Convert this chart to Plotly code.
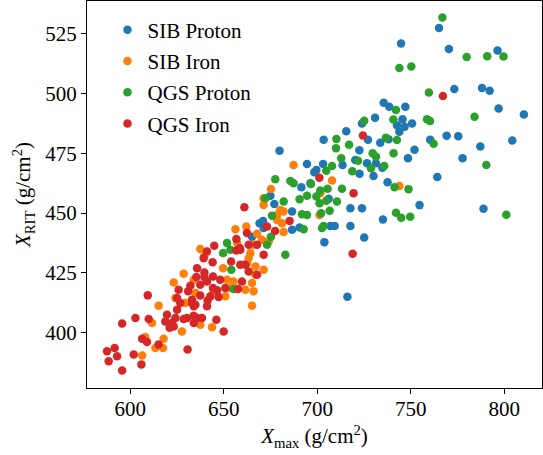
import plotly.graph_objects as go

sib_p_x = [765.1,744.8,770.4,796.4,773.3,788.1,792.2,735.5,738.5,747.1,797.0,810.5,745.6,742.6,743.9,746.7,750.7,769.2,775.4,760.4,804.3,787.2,752.0,733.7,738.1,748.5,777.7,734.8,764.2,737.6,754.7,788.9,735.1,730.9,723.9,715.5,727.1,722.5,720.3,726.6,731.4,713.5,722.6,730.1,703.4,679.8,694.5,703.1,699.5,698.4,691.5,696.3,706.1,717.7,723.9,686.5,677.0,671.0,690.5,707.0,709.3,717.7,686.5,725.1,703.8,674.9,669.1,671.3,665.1,716.1]
sib_p_y = [527.5,521.0,518.7,518.1,501.9,502.4,501.2,496.2,494.5,494.5,493.8,491.3,489.3,486.8,484.0,486.1,487.5,482.4,482.2,480.7,480.4,477.9,476.5,479.4,480.9,472.9,472.9,469.0,465.1,462.9,453.3,451.8,447.3,489.9,487.5,484.2,480.7,476.3,472.2,470.8,470.8,470.1,466.4,465.5,480.7,476.1,470.5,470.5,468.0,467.1,460.8,462.5,456.0,452.0,452.0,450.6,453.8,446.7,443.9,444.6,444.6,444.6,443.0,439.7,437.8,457.2,445.7,443.7,440.1,414.9]

sib_fe_x = [743.9,687.3,707.9,675.2,671.3,671.3,680.2,682.0,678.5,678.5,681.1,701.2,701.6,662.0,667.8,682.0,670.4,665.9,664.2,674.0,656.2,637.4,639.6,649.6,628.5,623.2,633.9,624.1,651.7,653.5,661.5,665.9,665.1,650.8,615.1,666.9,662.4,663.3,671.3,666.9,665.1,611.6,608.0,617.8,613.4,617.5,606.3,627.6,637.4,629.4,643.7,655.2,657.1,644.5,634.8]
sib_fe_y = [461.3,470.1,463.6,460.1,456.2,453.4,451.3,450.6,449.2,447.1,445.7,449.2,458.3,444.3,441.3,442.0,438.8,436.7,433.2,438.1,443.2,434.9,431.8,426.9,424.6,420.9,422.0,414.4,422.0,418.6,417.9,417.2,411.2,415.1,411.2,427.6,429.0,431.1,426.2,424.1,420.7,403.9,398.1,397.3,393.5,393.5,390.3,400.4,403.2,412.3,402.1,421.3,437.4,417.2,416.5]

qgs_p_x = [766.9,743.9,750.3,779.9,790.9,799.6,759.7,742.1,740.7,758.7,760.3,784.1,736.7,742.6,762.2,740.8,790.4,735.8,741.3,748.8,742.1,744.9,749.7,801.1,725.1,717.0,729.6,731.4,721.8,728.7,718.7,712.8,710.2,710.0,707.9,704.8,677.5,685.6,687.3,696.6,705.5,701.6,713.2,694.5,699.5,690.5,704.8,701.2,710.5,682.0,672.2,706.6,702.0,691.8,694.5,675.8,703.4,702.5,692.7,675.2,673.1,682.9,651.7,649.6,653.5,654.0,655.2]
qgs_p_y = [531.9,510.7,511.4,515.3,515.7,515.6,500.5,493.1,489.2,489.3,488.5,490.3,481.5,480.6,479.0,475.0,470.1,469.7,460.8,460.0,450.1,448.0,448.4,449.3,488.6,478.6,475.0,473.6,471.9,468.7,467.5,472.9,481.0,477.1,469.7,467.7,464.1,463.4,462.5,462.2,460.2,459.4,460.2,457.2,456.9,455.8,455.1,454.1,454.8,454.8,456.2,450.9,449.9,449.5,449.2,448.9,444.6,443.7,443.2,440.1,436.7,432.5,437.4,433.2,434.6,426.2,418.2]

qgs_fe_x = [767.2,724.4,701.1,719.4,661.0,685.2,673.1,677.4,662.4,667.8,663.3,671.3,718.9,658.8,644.9,641.0,644.0,639.2,635.7,639.6,635.3,639.6,644.2,641.0,648.1,644.2,637.4,632.1,630.9,625.8,625.0,633.0,637.4,633.9,642.8,647.2,650.8,657.6,663.3,667.8,653.9,656.7,658.5,656.7,649.9,646.0,635.7,638.3,633.9,628.5,619.6,618.7,622.3,621.0,623.2,624.1,630.3,633.9,625.0,626.7,641.3,641.0,646.4,658.8,661.5,659.7,609.3,595.6,602.7,609.8,587.5,591.6,592.9,588.4,601.8,605.9,595.6,606.3,608.9,615.1,630.6,633.0,634.8]
qgs_fe_y = [499.0,482.5,464.8,458.3,452.4,446.7,444.3,442.5,441.6,436.7,436.7,432.5,432.9,434.6,436.3,433.9,429.4,431.1,426.9,425.1,423.2,423.2,423.4,421.3,422.0,418.6,419.9,419.5,417.2,417.9,414.4,413.7,415.4,410.9,415.1,414.8,418.6,418.2,425.5,424.1,429.7,439.1,435.3,434.3,400.4,405.3,406.0,406.0,403.9,405.6,407.4,404.6,403.9,401.9,402.5,406.0,406.0,407.0,409.5,412.3,413.3,410.9,417.6,428.3,428.3,421.3,415.5,403.7,406.0,405.6,392.1,393.5,390.0,387.9,390.7,386.5,384.0,397.3,396.0,394.9,392.8,412.3,411.6]

series = [
    ("SIB Proton", sib_p_x, sib_p_y, "#1f77b4"),
    ("SIB Iron", sib_fe_x, sib_fe_y, "#ff7f0e"),
    ("QGS Proton", qgs_p_x, qgs_p_y, "#2ca02c"),
    ("QGS Iron", qgs_fe_x, qgs_fe_y, "#d62728"),
]

FONT = "Liberation Serif"
fig = go.Figure()
for i, (name, xs, ys, col) in enumerate(series):
    fig.add_trace(go.Scatter(x=xs, y=ys, mode="markers", name=name,
                             legendgroup=f"g{i}",
                             marker=dict(color=col, size=8.5, line=dict(width=0))))

axis_common = dict(showline=True, linecolor="black", linewidth=1, mirror=True,
                   ticks="outside", ticklen=5, tickwidth=1, tickcolor="black",
                   showgrid=False, zeroline=False,
                   tickfont=dict(family=FONT, size=21, color="black"))

fig.update_layout(
    width=543, height=455,
    margin=dict(l=87, r=1, t=1, b=67),
    plot_bgcolor="white", paper_bgcolor="white",
    font=dict(family=FONT, size=21, color="black"),
    xaxis=dict(range=[576.8, 820.2], tickvals=[600, 650, 700, 750, 800],
               ticklabelstandoff=-3,
               title=dict(text="<i>X</i><sub>max</sub> (g/cm<sup>2</sup>)",
                          font=dict(family=FONT, size=21), standoff=8),
               **axis_common),
    yaxis=dict(range=[376.7, 538.8], tickvals=[400, 425, 450, 475, 500, 525],
               title=dict(text="<i>X</i><sub>RIT</sub> (g/cm<sup>2</sup>)",
                          font=dict(family=FONT, size=21), standoff=8),
               **axis_common),
    legend=dict(x=0.045, y=0.978, xanchor="left", yanchor="top",
                bgcolor="rgba(255,255,255,0)", borderwidth=0,
                font=dict(family=FONT, size=21, color="black"),
                tracegroupgap=1),
    showlegend=True,
)

fig.write_html("out.html")
